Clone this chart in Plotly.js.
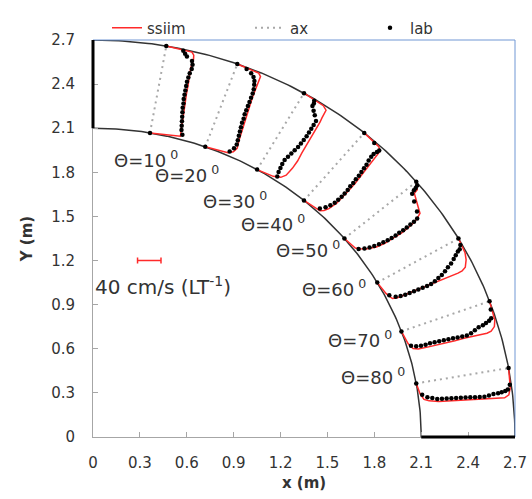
<!DOCTYPE html>
<html><head><meta charset="utf-8">
<script src="https://cdn.plot.ly/plotly-3.0.1.min.js"></script>
<style>html,body{margin:0;padding:0;background:#fff}</style>
</head><body><div id="chart" style="width:532px;height:499px"></div>
<script>
// ---- data ----
const sectionAngles = [10, 20, 30, 40, 50, 60, 70, 80]; // degrees from the y axis
const sectionLabels = ['Θ=10<sup> 0</sup>', 'Θ=20<sup> 0</sup>', 'Θ=30<sup> 0</sup>', 'Θ=40<sup> 0</sup>',
                       'Θ=50<sup> 0</sup>', 'Θ=60<sup> 0</sup>', 'Θ=70<sup> 0</sup>', 'Θ=80<sup> 0</sup>'];
const rInner = 2.1, rOuter = 2.7;           // channel walls (m)
const refVelocity = 40;                      // cm/s  (scale bar)
const refLength = 0.15;                      // m on the chart for refVelocity

// relative position across the channel (0 = inner wall, 1 = outer wall)
const etaSsiim = [0, 0.02, 0.05, 0.1, 0.2, 0.3, 0.4, 0.5, 0.6, 0.7, 0.8, 0.85, 0.9, 0.95, 0.98, 1];
// SSIIM velocities (cm/s)
const ssiim10 = [0, 52, 52, 51, 51, 50, 50, 49, 49, 48, 48, 49, 50, 49, 45, 0];
const ssiim20 = [0, 40, 48, 52, 50, 49, 47, 47, 46, 45, 45, 45, 46, 45, 40, 0];
const ssiim30 = [0, 30, 42, 48, 51, 52, 51, 51, 50, 50, 50, 49, 49, 48, 40, 0];
const ssiim40 = [0, 33, 38, 42, 46, 47, 47, 47, 46, 45, 44, 44, 43, 42, 35, 0];
const ssiim50 = [0, 25, 31, 38, 47, 51, 53, 55, 55, 54, 48, 32, 14, 12, 6, 0];
const ssiim60 = [0, 25, 38, 41, 43, 45, 47, 49, 51, 53, 54, 54, 51, 40, 28, 0];
const ssiim70 = [0, 25, 36, 40, 42, 44, 45, 47, 48, 50, 53, 53, 52, 46, 35, 0];
const ssiim80 = [0, 20, 31, 35, 39, 41, 43, 45, 47, 48, 50, 51, 52, 48, 35, 0];

const etaLab = [0, 0.04, 0.09, 0.14, 0.19, 0.24, 0.29, 0.34, 0.39, 0.44, 0.49, 0.54, 0.59, 0.64,
                0.69, 0.74, 0.79, 0.84, 0.88, 0.92, 0.95, 0.98, 1];
// laboratory velocities (cm/s)
const lab10 = [0, 55, 52, 51, 50, 49, 48, 47, 47, 46, 46, 46, 46, 46, 47, 48, 50, 50, 48, 38, 34, 30, 0];
const lab20 = [0, 42, 47, 49, 48, 47, 46, 45, 44, 44, 43, 43, 43, 43, 43, 43, 42, 40, 38, 34, 28, 18, 0];
const lab30 = [0, 36, 34, 33, 32, 32, 34, 36, 38, 40, 41, 42, 43, 43, 43, 43, 43, 36, 30, 24, 24, 22, 0];
const lab40 = [0, 30, 36, 40, 43, 44, 45, 45, 45, 44, 44, 43, 43, 42, 41, 40, 38, 37, 37, 39, 40, 25, 0];
const lab50 = [0, 30, 36, 40, 43, 46, 48, 50, 51, 52, 52, 53, 53, 53, 53, 52, 42, 25, 12, 9, 8, 6, 0];
const lab60 = [0, 30, 38, 41, 43, 44, 45, 46, 47, 48, 48, 47, 45, 43, 40, 36, 33, 28, 24, 20, 18, 12, 0];
const lab70 = [0, 30, 34, 36, 37, 37, 38, 39, 40, 41, 42, 43, 44, 45, 44, 41, 38, 37, 35, 33, 30, 15, 0];
const lab80 = [0, 22, 28, 31, 34, 35, 36, 37, 38, 39, 40, 41, 42, 43, 44, 43, 42, 42, 41, 40, 38, 30, 0];

const ssiimSets = [ssiim10, ssiim20, ssiim30, ssiim40, ssiim50, ssiim60, ssiim70, ssiim80];
const labSets = [lab10, lab20, lab30, lab40, lab50, lab60, lab70, lab80];

const tickVals = [0, 0.3, 0.6, 0.9, 1.2, 1.5, 1.8, 2.1, 2.4, 2.7];
const tickText = ['0', '0.3', '0.6', '0.9', '1.2', '1.5', '1.8', '2.1', '2.4', '2.7'];

// ---- geometry helpers ----
const axMax = 2.7;
const scale = refLength / refVelocity; // m per cm/s
const rad = d => d * Math.PI / 180;
function place(theta, eta, u) {
  const t = rad(theta), r = rInner + (rOuter - rInner) * eta, d = u * scale;
  return [r * Math.sin(t) + d * Math.cos(t), r * Math.cos(t) - d * Math.sin(t)];
}

// walls (arcs)
function arc(r) {
  const x = [], y = [];
  for (let a = 0; a <= 90; a += 0.5) { x.push(r * Math.sin(rad(a))); y.push(r * Math.cos(rad(a))); }
  return {x, y};
}
const ai = arc(rInner), ao = arc(rOuter);

// ax lines
const axX = [], axY = [];
sectionAngles.forEach(th => {
  const p0 = place(th, 0, 0), p1 = place(th, 1, 0);
  axX.push(p0[0], p1[0], null); axY.push(p0[1], p1[1], null);
});
// ssiim profiles
const sX = [], sY = [];
sectionAngles.forEach((th, i) => {
  etaSsiim.forEach((e, k) => { const p = place(th, e, ssiimSets[i][k]); sX.push(p[0]); sY.push(p[1]); });
  sX.push(null); sY.push(null);
});
// lab points
const lX = [], lY = [];
sectionAngles.forEach((th, i) => {
  etaLab.forEach((e, k) => { const p = place(th, e, labSets[i][k]); lX.push(p[0]); lY.push(p[1]); });
});

const FONT = 'DejaVu Sans';
const TXT = '#333333';

const traces = [
  {x: ai.x, y: ai.y, mode: 'lines', line: {color: '#333333', width: 1.5}, showlegend: false, hoverinfo: 'skip'},
  {x: ao.x, y: ao.y, mode: 'lines', line: {color: '#333333', width: 1.5}, showlegend: false, hoverinfo: 'skip'},
  {x: axX, y: axY, mode: 'lines', name: 'ax', legend: 'legend2',
   line: {color: '#a8a8a8', width: 2, dash: '2px,4px'}},
  {x: sX, y: sY, mode: 'lines', name: 'ssiim', legend: 'legend',
   line: {color: '#ff2a2a', width: 1.5}},
  {x: lX, y: lY, mode: 'markers', name: 'lab', legend: 'legend3',
   marker: {color: '#000000', size: 4.5}},
  {x: [0.36], y: [1.2], mode: 'markers', marker: {size: 1, color: 'rgba(0,0,0,0)'}, showlegend: false,
   error_x: {type: 'data', array: [refVelocity * scale / 2], color: '#ff2a2a', thickness: 1.5, width: 3}}
];

const labelPos = [[0.339, 1.890], [0.601, 1.787], [0.910, 1.609], [1.154, 1.454],
                  [1.374, 1.277], [1.542, 1.014], [1.708, 0.667], [1.791, 0.412]];
const annotations = sectionLabels.map((t, i) => ({
  x: labelPos[i][0], y: labelPos[i][1], xref: 'x', yref: 'y', text: t, showarrow: false,
  xanchor: 'center', yanchor: 'middle', font: {family: FONT, size: 18, color: TXT}
}));
annotations.push({x: 0.445, y: 1.024, xref: 'x', yref: 'y', text: '40 cm/s (LT<sup>-1</sup>)', showarrow: false,
  xanchor: 'center', yanchor: 'middle', font: {family: FONT, size: 20, color: TXT}});

const legendBase = {orientation: 'h', yanchor: 'middle', y: 1.03, xanchor: 'left',
  font: {family: FONT, size: 15, color: TXT}, bgcolor: 'rgba(0,0,0,0)', borderwidth: 0};

const axisCommon = {
  range: [0, axMax], showgrid: false, zeroline: false, showline: true, linecolor: '#a6a6a6', linewidth: 1,
  ticks: 'inside', ticklen: 5, tickcolor: '#a6a6a6', tickvals: tickVals, ticktext: tickText,
  tickfont: {family: FONT, size: 15, color: TXT}, fixedrange: true, automargin: false
};

const layout = {
  width: 532, height: 499, margin: {l: 93, r: 17, t: 31, b: 62},
  paper_bgcolor: '#ffffff', plot_bgcolor: '#ffffff',
  xaxis: Object.assign({}, axisCommon, {ticklabelstandoff: 12,
    title: {text: '<b>x (m)</b>', font: {family: FONT, size: 15, color: TXT}, standoff: 6}}),
  yaxis: Object.assign({}, axisCommon, {ticklabelstandoff: 14,
    title: {text: '<b>Y (m)</b>', font: {family: FONT, size: 15, color: TXT}, standoff: 14}}),
  legend: Object.assign({}, legendBase, {x: (107 - 93) / 422}),
  legend2: Object.assign({}, legendBase, {x: (250 - 93) / 422}),
  legend3: Object.assign({}, legendBase, {x: (370 - 93) / 422}),
  annotations: annotations,
  shapes: [
    {type: 'line', xref: 'paper', yref: 'paper', x0: 0, x1: 1, y0: 1, y1: 1, line: {color: '#7197d4', width: 1}},
    {type: 'line', xref: 'paper', yref: 'paper', x0: 1, x1: 1, y0: 0, y1: 1, line: {color: '#7197d4', width: 1}},
    {type: 'line', xref: 'paper', yref: 'paper', x0: 0, x1: 0, y0: rInner / axMax, y1: rOuter / axMax, line: {color: '#000000', width: 3}},
    {type: 'line', xref: 'paper', yref: 'paper', x0: rInner / axMax, x1: rOuter / axMax, y0: 0, y1: 0, line: {color: '#000000', width: 3}}
  ]
};

Plotly.newPlot('chart', traces, layout, {displayModeBar: false, staticPlot: true});
</script>
</body></html>
